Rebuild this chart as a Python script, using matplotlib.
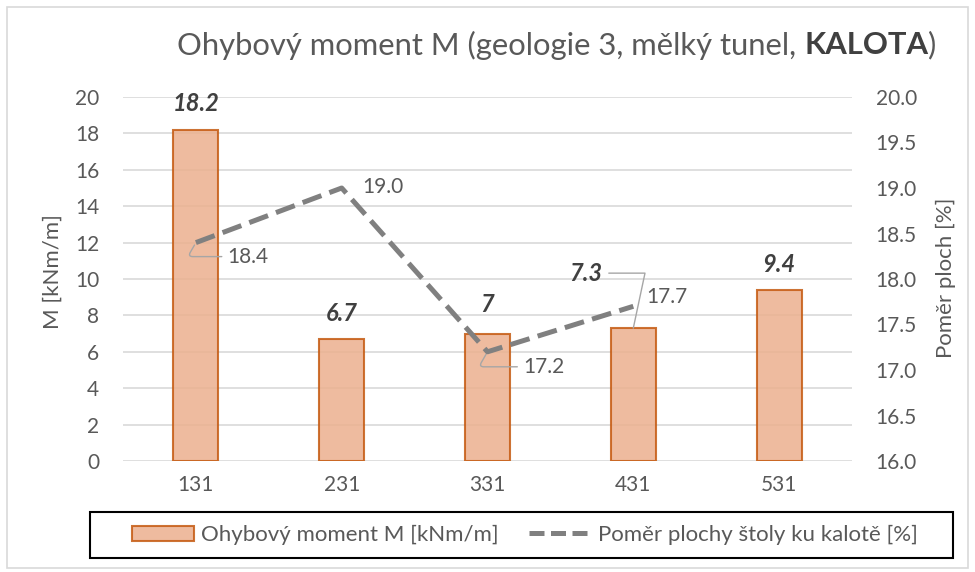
import matplotlib.pyplot as plt
from matplotlib.patches import Rectangle, Patch
from matplotlib.lines import Line2D

plt.rcParams['font.family'] = ['Lato', 'DejaVu Sans']

# data
categories = ['131', '231', '331', '431', '531']
moment = [18.2, 6.7, 7.0, 7.3, 9.4]
moment_labels = ['18.2', '6.7', '7', '7.3', '9.4']
ratio = [18.4, 19.0, 17.2, 17.7]
ratio_labels = ['18.4', '19.0', '17.2', '17.7']

txt = '#595959'
grid = '#D9D9D9'
bar_face = '#EBB08E'
bar_edge = '#C55A11'
line_col = '#808080'

fig = plt.figure(figsize=(9.75, 5.72), dpi=100)
# outer chart border
fig.patches.append(Rectangle((7 / 975, 4 / 572), 961 / 975, 561 / 572, transform=fig.transFigure,
                             fill=False, edgecolor='#D9D9D9', linewidth=1.2))

ax = fig.add_axes([123 / 975, 1 - 461 / 572, 729 / 975, 364 / 572])
ax2 = ax.twinx()

x = list(range(len(categories)))
ax.bar(x, moment, width=0.31, color=bar_face, alpha=0.85, edgecolor=bar_edge, linewidth=1.5, zorder=3)
ax.set_xlim(-0.5, 4.5)
ax.set_ylim(0, 20)
ax.set_yticks(range(0, 21, 2))
ax.set_xticks(x)
ax.set_xticklabels(categories)
ax.grid(axis='y', color=grid, linewidth=1.2, zorder=0)
ax.set_axisbelow(True)
ax.set_ylabel('M [kNm/m]', color=txt, fontsize=16)
ax.yaxis.set_label_coords(-0.0823, 0.52)

ax2.plot(x[:len(ratio)], ratio, color=line_col, linewidth=3.6, dashes=(4.0, 1.7), zorder=4)
ax2.set_ylim(16, 20)
ax2.set_yticks([16 + 0.5 * i for i in range(9)])
ax2.set_yticklabels([f'{16 + 0.5 * i:.1f}' for i in range(9)])
ax2.set_ylabel('Poměr ploch [%]', color=txt, fontsize=16)
ax2.yaxis.set_label_coords(1.115, 0.503)

for a in (ax, ax2):
    for s in a.spines.values():
        s.set_visible(False)
    a.tick_params(length=0, labelsize=15, labelcolor=txt, pad=17)
ax.tick_params(axis='x', pad=10)

# bar value labels
bar_off = {0: (0, 26), 1: (0, 26), 2: (0, 29), 4: (0, 25)}
for i, (v, lab) in enumerate(zip(moment, moment_labels)):
    if i == 3:
        ax.annotate(lab, xy=(i, v), xytext=(-48, 55), textcoords='offset pixels',
                    ha='center', va='center', fontsize=17, fontweight='bold', style='italic', color='#404040',
                    arrowprops=dict(arrowstyle='-', color='#A6A6A6', lw=1,
                                    connectionstyle='angle,angleA=0,angleB=78,rad=0',
                                    shrinkA=3, shrinkB=0))
    else:
        ax.annotate(lab, xy=(i, v), xytext=bar_off[i], textcoords='offset pixels',
                    ha='center', va='center', fontsize=17, fontweight='bold', style='italic', color='#404040')

# line value labels
line_off = [(52, -14), (41, 1), (56, -15), (34, 9)]
for i, (v, lab) in enumerate(zip(ratio, ratio_labels)):
    arrow = None
    if i in (0, 2):
        arrow = dict(arrowstyle='-', color='#A6A6A6', lw=1, shrinkA=2, shrinkB=2,
                     connectionstyle='angle,angleA=0,angleB=60,rad=5')
    ax2.annotate(lab, xy=(i, v), xytext=line_off[i], textcoords='offset pixels',
                 ha='center', va='center', fontsize=15, color=txt, arrowprops=arrow)

# title: normal text with bold KALOTA
ty = 1 - 45 / 572
parts = [('Ohybový moment M (geologie 3, mělký tunel, ', 'normal', txt),
         ('KALOTA', 'bold', '#404040'),
         (')', 'normal', txt)]
r = fig.canvas.get_renderer()
title_texts = [fig.text(0, ty, s, ha='left', va='center', fontsize=22.3, fontweight=w, color=c)
               for s, w, c in parts]
widths = [t.get_window_extent(r).width for t in title_texts]
xpos = 557 - sum(widths) / 2
for t, w in zip(title_texts, widths):
    t.set_x(xpos / 975)
    xpos += w

# legend box and entries
fig.patches.append(Rectangle((90 / 975, 1 - 558 / 572), 863 / 975, 46 / 572, transform=fig.transFigure,
                             fill=False, edgecolor='black', linewidth=1.5))
handles = [Patch(facecolor=bar_face, edgecolor=bar_edge, linewidth=1.5, alpha=0.85),
           Line2D([], [], color=line_col, linewidth=3.6, dashes=(3.0, 1.3))]
leg = fig.legend(handles, ['Ohybový moment M [kNm/m]', 'Poměr plochy štoly ku kalotě [%]'],
                 loc='center', bbox_to_anchor=(525 / 975, 1 - 535 / 572),
                 ncol=2, fontsize=16, frameon=False, handlelength=2.8, handleheight=0.65,
                 handletextpad=0.3, columnspacing=1.4, borderaxespad=0)
for tx in leg.get_texts():
    tx.set_color(txt)

fig.savefig('out.png', dpi=100)
